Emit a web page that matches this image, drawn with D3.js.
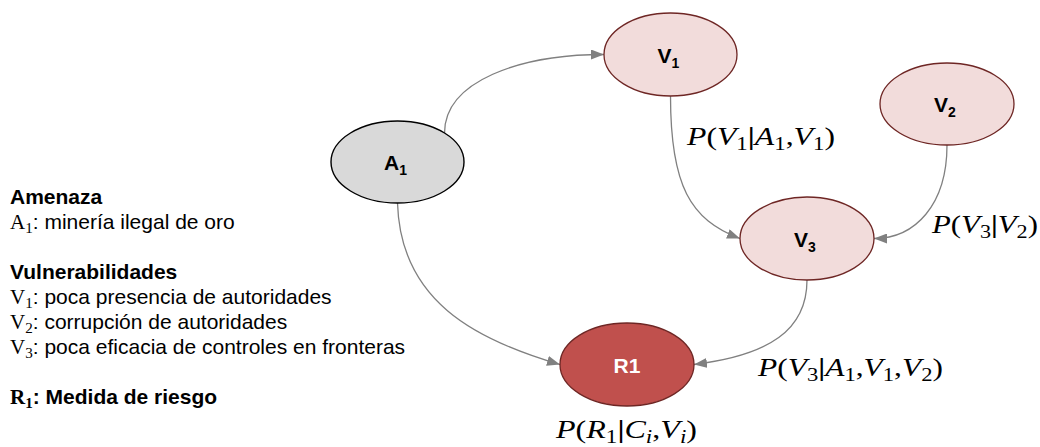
<!DOCTYPE html>
<html>
<head>
<meta charset="utf-8">
<script src="https://cdn.jsdelivr.net/npm/d3@7"></script>
<style>
  body { margin: 0; background: #fff; }
  svg { display: block; }
</style>
</head>
<body>
<div id="chart"></div>
<script>
const width = 1040, height = 447;

// nodes of the network
const nodeIds   = ["A1", "V1", "V2", "V3", "R1"];
const nodeNames = ["A", "V", "V", "V", "R1"];
const nodeSubs  = ["1", "1", "2", "3", ""];
const nodeKinds = ["amenaza", "vuln", "vuln", "vuln", "riesgo"];

// arcs source -> target
const edgeFrom = ["A1", "V1", "V2", "A1", "V3"];
const edgeTo   = ["V1", "V3", "V3", "R1", "R1"];

// conditional probability labels
const probTexts = ["P(V_1|A_1,V_1)", "P(V_3|V_2)", "P(V_3|A_1,V_1,V_2)", "P(R_1|C_i,V_i)"];

// legend (symbol part in math font, rest in sans)
const legendSymbols = ["", "A_1", "", "", "V_1", "V_2", "V_3", "", "R_1"];
const legendTexts = ["Amenaza", ": minería ilegal de oro", "", "Vulnerabilidades",
  ": poca presencia de autoridades", ": corrupción de autoridades",
  ": poca eficacia de controles en fronteras", "", ": Medida de riesgo"];
const legendBold = [true, false, false, true, false, false, false, false, true];

// ---- layout (pixels) ----
const nodeLayout = {
  A1: { cx: 397.5, cy: 162,   rx: 66.5, ry: 41 },
  V1: { cx: 670.5, cy: 54.5,  rx: 66.5, ry: 41.5 },
  V2: { cx: 947,   cy: 104,   rx: 67,   ry: 41 },
  V3: { cx: 807,   cy: 238.5, rx: 67,   ry: 41.5 },
  R1: { cx: 627,   cy: 364.5, rx: 67,   ry: 41.5 }
};
// start angle on source, end angle on target, tangent dirs and lengths
const edgeLayout = [
  { a0: -45, d0: [0, -1],    k0: 52, a1: 180, d1: [1, 0],         k1: 84 },
  { a0: 90,  d0: [0, 1],     k0: 90, a1: 180, d1: [0.935, 0.355], k1: 53 },
  { a0: 90,  d0: [0, 1],     k0: 60, a1: 0,   d1: [-1, 0],        k1: 41 },
  { a0: 90,  d0: [0.03, 1],  k0: 97, a1: 180, d1: [0.96, 0.28],   k1: 90 },
  { a0: 90,  d0: [0, 1],     k0: 50, a1: 0,   d1: [-0.99, 0.12],  k1: 76 }
];
const probLayout = [
  { x: 687, y: 145, w: 148 },
  { x: 932, y: 233, w: 106 },
  { x: 758, y: 376, w: 185 },
  { x: 556, y: 438, w: 141 }
];

const nodeStyle = {
  amenaza: { fill: "#d9d9d9", stroke: "#000000", sw: 1.4, text: "#000" },
  vuln:    { fill: "#f2dcdb", stroke: "#6e2624", sw: 1.3, text: "#000" },
  riesgo:  { fill: "#c0504d", stroke: "#6e2624", sw: 1.3, text: "#fff" }
};
const arrowColor = "#808080";
const mathFont = "'Liberation Serif', 'DejaVu Serif', serif";
const sansFont = "'Liberation Sans', Arial, sans-serif";

const svg = d3.select("#chart").append("svg")
  .attr("width", width).attr("height", height)
  .attr("viewBox", `0 0 ${width} ${height}`);

svg.append("defs").append("marker")
  .attr("id", "arrow")
  .attr("markerUnits", "userSpaceOnUse")
  .attr("viewBox", "0 0 13 10")
  .attr("refX", 13).attr("refY", 5)
  .attr("markerWidth", 13).attr("markerHeight", 10)
  .attr("orient", "auto")
  .append("path")
    .attr("d", "M0,0L13,5L0,10Z")
    .attr("fill", arrowColor);

const onEllipse = (n, deg) => {
  const t = deg * Math.PI / 180;
  return [n.cx + n.rx * Math.cos(t), n.cy + n.ry * Math.sin(t)];
};

// edges
const edges = edgeFrom.map((f, i) => ({ from: f, to: edgeTo[i], ...edgeLayout[i] }));
svg.append("g").attr("class", "edges")
  .selectAll("path")
  .data(edges)
  .join("path")
    .attr("d", e => {
      const p0 = onEllipse(nodeLayout[e.from], e.a0);
      const p3 = onEllipse(nodeLayout[e.to], e.a1);
      const p = d3.path();
      p.moveTo(p0[0], p0[1]);
      p.bezierCurveTo(p0[0] + e.d0[0] * e.k0, p0[1] + e.d0[1] * e.k0,
                      p3[0] - e.d1[0] * e.k1, p3[1] - e.d1[1] * e.k1,
                      p3[0], p3[1]);
      return p.toString();
    })
    .attr("fill", "none")
    .attr("stroke", arrowColor)
    .attr("stroke-width", 1.3)
    .attr("marker-end", "url(#arrow)");

// nodes
const nodes = nodeIds.map((id, i) => ({ id, name: nodeNames[i], sub: nodeSubs[i], kind: nodeKinds[i], ...nodeLayout[id] }));
const ng = svg.append("g").attr("class", "nodes")
  .selectAll("g")
  .data(nodes)
  .join("g");

ng.append("ellipse")
  .attr("cx", d => d.cx).attr("cy", d => d.cy)
  .attr("rx", d => d.rx).attr("ry", d => d.ry)
  .attr("fill", d => nodeStyle[d.kind].fill)
  .attr("stroke", d => nodeStyle[d.kind].stroke)
  .attr("stroke-width", d => nodeStyle[d.kind].sw);

const nt = ng.append("text")
  .attr("x", d => d.sub ? d.cx - 2 : d.cx)
  .attr("y", d => d.cy + 8)
  .attr("text-anchor", "middle")
  .attr("font-family", sansFont)
  .attr("font-weight", "bold")
  .attr("font-size", 21)
  .attr("fill", d => nodeStyle[d.kind].text);
nt.append("tspan").text(d => d.name);
nt.filter(d => d.sub).append("tspan")
  .attr("font-size", 14).attr("dy", 5)
  .text(d => d.sub);

// math text writer: letters italic, _x subscript, others upright
function writeMath(sel, str, size, italic = true, weight = "normal") {
  const re = /([A-Za-z])(?:_([A-Za-z0-9]))?|([^A-Za-z])/g;
  const shift = size * 0.2;
  let down = false, m;
  while ((m = re.exec(str)) !== null) {
    if (m[1]) {
      sel.append("tspan")
        .attr("font-family", mathFont)
        .attr("font-weight", weight)
        .attr("font-style", italic ? "italic" : "normal")
        .attr("dy", down ? -shift : 0)
        .text(m[1]);
      down = false;
      if (m[2]) {
        sel.append("tspan")
          .attr("font-family", mathFont)
          .attr("font-weight", weight)
          .attr("font-size", size * 0.72)
          .attr("font-style", /[a-z]/.test(m[2]) && italic ? "italic" : "normal")
          .attr("dy", shift)
          .text(m[2]);
        down = true;
      }
    } else {
      sel.append("tspan")
        .attr("font-family", mathFont)
        .attr("font-style", "normal")
        .attr("font-weight", m[3] === "|" ? "bold" : weight)
        .attr("dy", down ? -shift : 0)
        .text(m[3]);
      down = false;
    }
  }
  return down ? shift : 0;
}

// probability labels
probTexts.forEach((s, i) => {
  const l = probLayout[i];
  const t = svg.append("text")
    .attr("x", l.x).attr("y", l.y)
    .attr("font-family", mathFont)
    .attr("font-size", 26)
    .attr("fill", "#000");
  writeMath(t, s, 26);
  t.attr("textLength", l.w).attr("lengthAdjust", "spacingAndGlyphs");
});

// legend
const legendX = 10, legendY0 = 204, legendStep = 25;
legendTexts.forEach((txt, i) => {
  if (!txt && !legendSymbols[i]) return;
  const weight = legendBold[i] ? "bold" : "normal";
  const t = svg.append("text")
    .attr("x", legendX)
    .attr("y", legendY0 + i * legendStep)
    .attr("font-size", 21)
    .attr("fill", "#000");
  let back = 0;
  if (legendSymbols[i]) back = writeMath(t, legendSymbols[i], 21, false, weight);
  t.append("tspan")
    .attr("font-family", sansFont)
    .attr("font-weight", weight)
    .attr("dy", -back)
    .text(txt);
});
</script>
</body>
</html>
